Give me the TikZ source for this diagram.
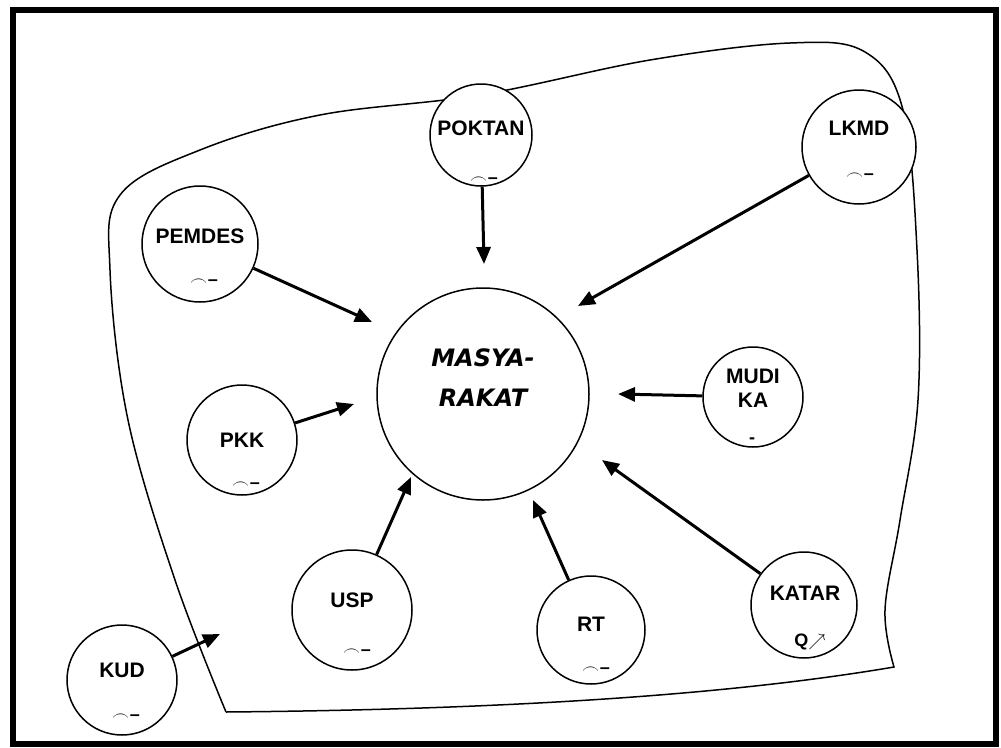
\documentclass[tikz,border=0pt]{standalone}
\usepackage{fontspec}
\setmainfont{Liberation Sans}
\newfontfamily\judulfont{DejaVu Sans}
\usetikzlibrary{arrows.meta}

\tikzset{
	lembaga/.style={circle, draw, line width=1.5pt, fill=white, inner sep=0pt},
	nama/.style={font=\fontsize{21}{24}\selectfont\bfseries},
	tanda/.style={font=\fontsize{18}{18}\selectfont\bfseries},
	panah/.style={line width=3pt, -{Triangle[length=17pt,width=14pt]}},
}
\newcommand{\tandakecil}{$\frown$\kern1pt--}

\begin{document}
\begin{tikzpicture}[x=1pt, y=-1pt]
	\useasboundingbox (0,0) rectangle (1001,747);
	\draw[line width=6pt] (13,10) rectangle (996,744);

	% batas wilayah desa
	\draw[line width=1.5pt]
		plot[smooth, tension=0.6] coordinates {(226,712) (175,580) (128,420) (110,270) (120,195) (200,150) (320,115) (480,95) (650,60) (790,43) (865,52) (903,110) (917,250) (918,400) (900,520) (885,610) (894,667)}
		.. controls (700,700) and (450,710) .. (226,712);

	% pusat
	\node[lembaga, minimum size=212pt] (masy) at (483,394) {};
	\node[font=\fontsize{24}{40}\selectfont\judulfont\bfseries\itshape, align=center] (masylbl) at (483,378) {MASYA-\\RAKAT};

	% lembaga desa
	\node[lembaga, minimum size=102pt] (poktan) at (481,135) {};
	\node[nama] at (481,128) {POKTAN};
	\node[tanda] at (484,180) {\tandakecil};

	\node[lembaga, minimum size=114pt] (lkmd) at (859,147) {};
	\node[nama] at (859,128) {LKMD};
	\node[tanda] at (860,176) {\tandakecil};

	\node[lembaga, minimum size=116pt] (pemdes) at (200,244) {};
	\node[nama] at (200,236) {PEMDES};
	\node[tanda] at (204,282) {\tandakecil};

	\node[lembaga, minimum size=100pt] (mudika) at (753,397) {};
	\node[nama, align=center] at (753,388) {MUDI\\KA};
	\node[tanda] at (752,441) {-};

	\node[lembaga, minimum size=110pt] (pkk) at (242,440) {};
	\node[nama] at (242,440) {PKK};
	\node[tanda] at (246,485) {\tandakecil};

	\node[lembaga, minimum size=120pt] (usp) at (352,610) {};
	\node[nama] at (352,600) {USP};
	\node[tanda] at (357,652) {\tandakecil};

	\node[lembaga, minimum size=108pt] (rt) at (591,630) {};
	\node[nama] at (591,624) {RT};
	\node[tanda] at (596,670) {\tandakecil};

	\node[lembaga, minimum size=106pt] (katar) at (804,605) {};
	\node[nama] at (805,593) {KATAR};
	\node[tanda] at (810,642) {Q$\nearrow$};

	\node[lembaga, minimum size=110pt] (kud) at (122,680) {};
	\node[nama] at (122,670) {KUD};
	\node[tanda] at (126,717) {\tandakecil};

	% ujung panah
	\coordinate (tpoktan) at (484,264);
	\coordinate (tlkmd) at (578,306);
	\coordinate (tpemdes) at (372,322);
	\coordinate (tpkk) at (354,404);
	\coordinate (tmudika) at (618,394);
	\coordinate (tusp) at (411,477);
	\coordinate (trt) at (533,500);
	\coordinate (tkatar) at (602,460);
	\coordinate (tkud) at (220,634);

	\draw[panah] (poktan) -- (tpoktan);
	\draw[panah] (lkmd) -- (tlkmd);
	\draw[panah] (pemdes) -- (tpemdes);
	\draw[panah] (pkk) -- (tpkk);
	\draw[panah] (mudika) -- (tmudika);
	\draw[panah] (usp) -- (tusp);
	\draw[panah] (rt) -- (trt);
	\draw[panah] (katar) -- (tkatar);
	\draw[panah] (kud) -- (tkud);
\end{tikzpicture}
\end{document}
